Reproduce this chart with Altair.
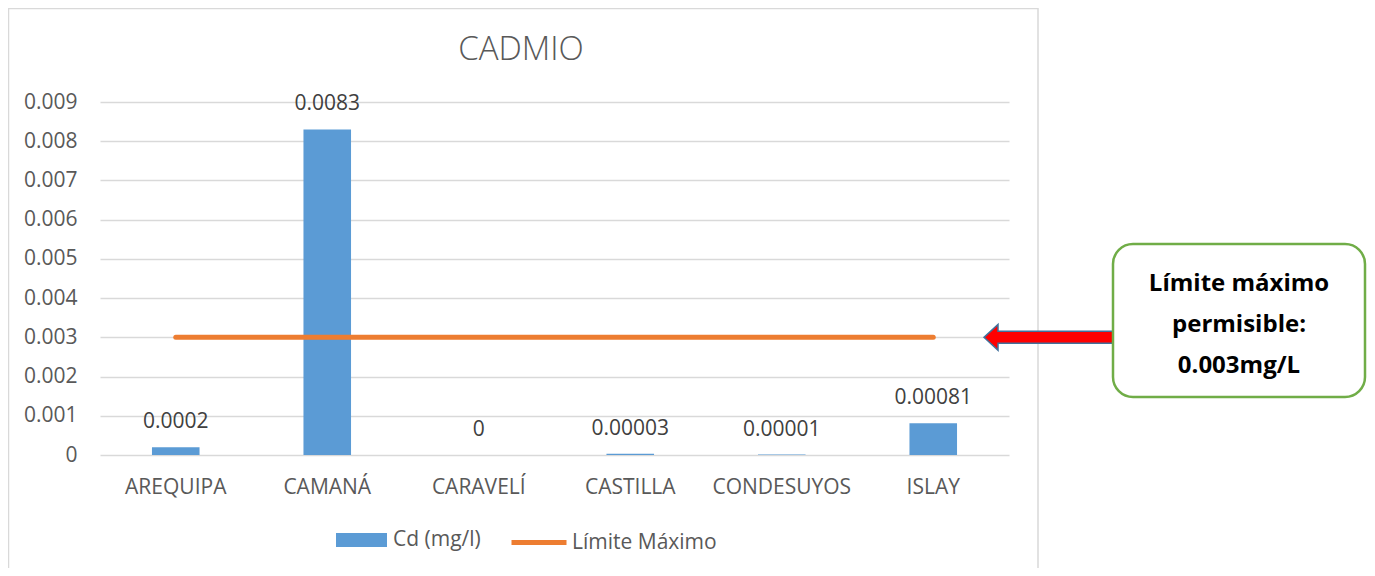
import altair as alt
import pandas as pd

# ---- data ----
CATEGORIAS = ["AREQUIPA", "CAMANÁ", "CARAVELÍ", "CASTILLA", "CONDESUYOS", "ISLAY"]
CD_MG_L = [0.0002, 0.0083, 0, 0.00003, 0.00001, 0.00081]
LIMITE = 0.003
Y_TICKS = [0, 0.001, 0.002, 0.003, 0.004, 0.005, 0.006, 0.007, 0.008, 0.009]
SERIE_BARRAS = "Cd (mg/l)"
SERIE_LINEA = "Límite Máximo"
TITULO = "CADMIO"
NOTA = ["Límite máximo", "permisible:", "0.003mg/L"]

FONT = "Open Sans"
GRAY_TXT = "#595959"
BLUE = "#5b9bd5"
ORANGE = "#ed7d31"

df_bar = pd.DataFrame({"cat": CATEGORIAS, "v": CD_MG_L, "serie": SERIE_BARRAS})
df_lim = pd.DataFrame({"cat": CATEGORIAS, "v": [LIMITE] * len(CATEGORIAS), "serie": SERIE_LINEA})
df_one = pd.DataFrame({"v": [LIMITE], "t": [TITULO]})

X = alt.X(
    "cat:N", sort=CATEGORIAS,
    scale=alt.Scale(paddingInner=0.686, paddingOuter=0.343),
    axis=alt.Axis(title=None, labelAngle=0, ticks=False, tickSize=0, domain=False,
                  labelPadding=21, labelFontSize=21, labelColor=GRAY_TXT, labelFont=FONT),
)
Y = alt.Y(
    "v:Q", scale=alt.Scale(domain=[0, 0.009], nice=False, zero=True),
    axis=alt.Axis(title=None, values=Y_TICKS,
                  labelExpr="datum.value == 0 ? '0' : format(datum.value, '.3f')",
                  ticks=False, tickSize=0, domain=False, grid=True,
                  gridColor="#d9d9d9", gridWidth=1.3,
                  labelPadding=23, labelFontSize=21, labelColor=GRAY_TXT, labelFont=FONT),
)

frame = alt.Chart(df_one).mark_rect(fill="transparent", stroke="#d9d9d9", strokeWidth=1.5).encode(
    x=alt.value(-91.5), x2=alt.value(938), y=alt.value(-93.5), y2=alt.value(600)
)

title = alt.Chart(df_one).mark_text(
    font=FONT, fontSize=33, fontWeight=300, color=GRAY_TXT, align="center", baseline="alphabetic"
).encode(text="t:N", x=alt.value(421), y=alt.value(-42))

bars = alt.Chart(df_bar).mark_bar().encode(
    x=X, y=Y,
    color=alt.Color("serie:N", scale=alt.Scale(domain=[SERIE_BARRAS], range=[BLUE]),
                    legend=alt.Legend(title=None, orient="none", legendX=236, legendY=412.5,
                                      symbolType="M-1,-0.275H1V0.275H-1Z", symbolSize=2601,
                                      symbolStrokeWidth=0, labelOffset=6, labelFontSize=21,
                                      labelColor=GRAY_TXT, labelFont=FONT, padding=0)),
)

labels = alt.Chart(df_bar).mark_text(
    dy=-25, baseline="middle", align="center", fontSize=21, font=FONT, color="#404040"
).encode(x=X, y=Y, text=alt.Text("v:Q", format="~g"))

line = alt.Chart(df_lim).mark_line(strokeWidth=5, strokeCap="round").encode(
    x=X, y=Y,
    stroke=alt.Stroke("serie:N", scale=alt.Scale(domain=[SERIE_LINEA], range=[ORANGE]),
                      legend=alt.Legend(title=None, orient="none", legendX=409, legendY=410.5,
                                        symbolType="stroke", symbolSize=3025, symbolStrokeWidth=5,
                                        labelOffset=3, labelFontSize=21,
                                        labelColor=GRAY_TXT, labelFont=FONT, padding=0)),
)

ARROW = "M-1,0L-0.794,-0.191L-0.794,-0.088L1,-0.088L1,0.088L-0.794,0.088L-0.794,0.191Z"
arrow = alt.Chart(df_one).mark_point(
    shape=ARROW, size=18496, filled=True, fill="#ff0000", stroke="#41719c",
    strokeWidth=1.5, opacity=1
).encode(x=alt.value(952), y=Y)

box = alt.Chart(df_one).mark_rect(
    fill="white", stroke="#70ad47", strokeWidth=2.5, cornerRadius=20
).encode(x=alt.value(1013), x2=alt.value(1265), y=alt.value(142), y2=alt.value(295))

note = alt.Chart(df_one).mark_text(
    text=NOTA, font=FONT, fontSize=24, fontWeight="bold", color="black",
    align="center", baseline="middle", lineHeight=41
).encode(x=alt.value(1139), y=alt.value(182))

chart = alt.layer(frame, title, bars, line, labels, arrow, box, note).properties(
    width=909, height=353,
    autosize=alt.AutoSizeParams(type="none"),
    padding={"left": 92, "top": 94, "right": 358, "bottom": 113},
).configure_view(stroke=None).resolve_scale(color="independent")

chart.save("out.html", embed_options={"renderer": "svg", "actions": False})
